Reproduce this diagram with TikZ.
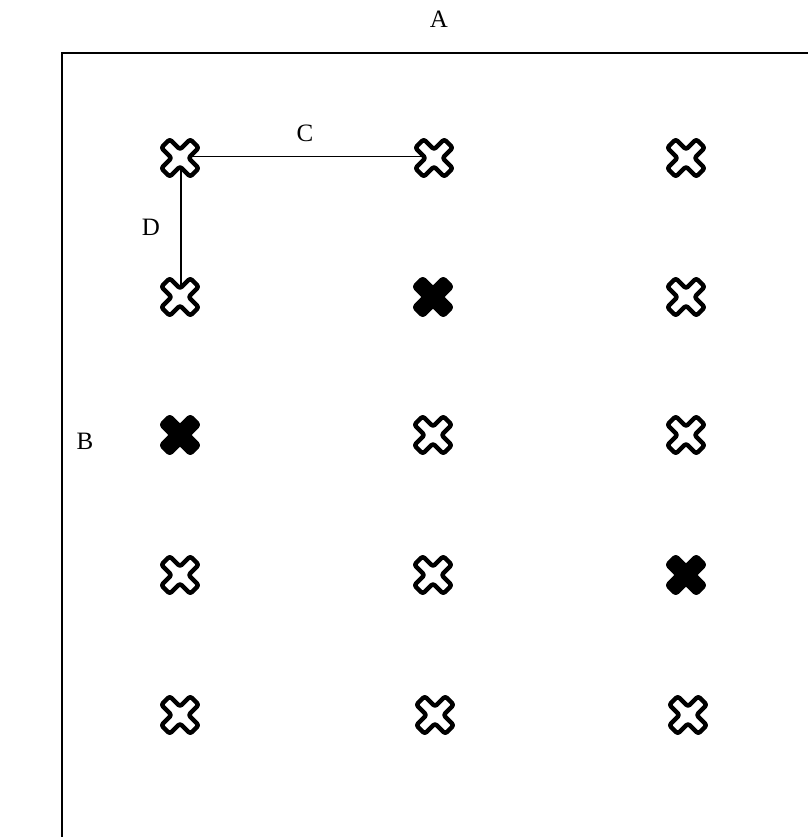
\documentclass[tikz,border=0pt]{standalone}
\usepackage{fontspec}
\setmainfont{Liberation Serif}
\tikzset{
  frameline/.style={line width=2.8pt, line cap=rect},
  conn/.style={line width=1.2pt},
  lbl/.style={font=\fontsize{25}{30}\selectfont, inner sep=0pt},
  pics/xmark/.style={code={
    \path[draw=black, fill=#1, line width=4.5pt, rounded corners=2.5pt, line join=round, rotate=45]
      (-6,-20.5) -- (6,-20.5) -- (6,-6) -- (20.5,-6) -- (20.5,6) -- (6,6) -- (6,20.5) -- (-6,20.5)
      -- (-6,6) -- (-20.5,6) -- (-20.5,-6) -- (-6,-6) -- cycle;
  }},
  pics/xmark/.default=white
}
\begin{document}
\begin{tikzpicture}[x=1pt,y=-1pt]
\useasboundingbox (0,0) rectangle (807,837);
% frame
\coordinate (ftr) at (807,53);
\coordinate (ftl) at (62,53);
\coordinate (fbl) at (62,837);
\draw[frameline] (ftr) -- (ftl) -- (fbl);
% labels
\node[lbl] (A) at (439,19) {A};
\node[lbl] (B) at (85,441) {B};
\node[lbl] (C) at (305,133) {C};
\node[lbl] (D) at (151,227) {D};
% grid points
\coordinate (p11) at (180,158);
\coordinate (p12) at (434,158);
\coordinate (p13) at (686,158);
\coordinate (p21) at (180,297);
\coordinate (p22) at (433,297);
\coordinate (p23) at (686,297);
\coordinate (p31) at (180,435);
\coordinate (p32) at (433,435);
\coordinate (p33) at (686,435);
\coordinate (p41) at (180,575);
\coordinate (p42) at (433,575);
\coordinate (p43) at (686,575);
\coordinate (p51) at (180,715);
\coordinate (p52) at (435,715);
\coordinate (p53) at (688,715);
% connectors
\draw[conn] ([xshift=1pt,yshift=1.5pt]p11) -- ([yshift=1.5pt]p12);
\draw[conn] ([xshift=1pt,yshift=1.5pt]p11) -- ([xshift=1pt]p21);
% marks
\pic at (p11) {xmark};
\pic at (p12) {xmark};
\pic at (p13) {xmark};
\pic at (p21) {xmark};
\pic at (p22) {xmark=black};
\pic at (p23) {xmark};
\pic at (p31) {xmark=black};
\pic at (p32) {xmark};
\pic at (p33) {xmark};
\pic at (p41) {xmark};
\pic at (p42) {xmark};
\pic at (p43) {xmark=black};
\pic at (p51) {xmark};
\pic at (p52) {xmark};
\pic at (p53) {xmark};
\end{tikzpicture}
\end{document}
